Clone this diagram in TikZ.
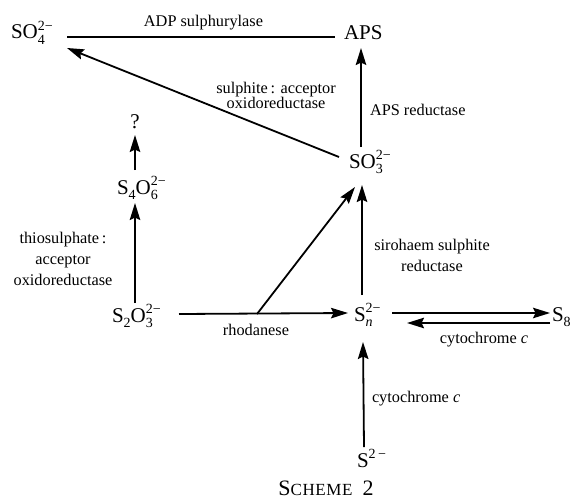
\documentclass[tikz,border=0pt]{standalone}
\usepackage{fontspec}
\setmainfont{Liberation Serif}
\usetikzlibrary{arrows.meta,calc}
\newcommand\scr{\fontsize{14}{14}\selectfont}
\newcommand\subsup[2]{\makebox[0pt][l]{\raisebox{-0.28em}{\scr #1}}\raisebox{0.4em}{\scr #2}}
\newcommand\supr[1]{\raisebox{0.4em}{\scr #1}}
\newcommand\chsub[1]{\raisebox{-0.28em}{\scr #1}}
\begin{document}
\begin{tikzpicture}[x=1pt,y=-1pt,
  chem/.style={inner sep=0pt,outer sep=0pt,anchor=base west,font=\fontsize{21}{24}\selectfont},
  lab/.style={inner sep=0pt,outer sep=0pt,font=\fontsize{16.3}{21}\selectfont},
  arr/.style={line width=1.8pt,-{Stealth[length=17pt,width=10.5pt,inset=2.5pt]}},
  ln/.style={line width=1.7pt}]
\useasboundingbox (0,0) rectangle (580,503);
% species
\node[chem] (so4) at (11,39) {SO\subsup{4}{2−}};
\node[chem] (aps) at (344,40) {APS};
\node[chem] (so3) at (349,168) {SO\subsup{3}{2−}};
\node[chem,anchor=base] (q) at (135,128) {?};
\node[chem] (s4o6) at (117,194) {S\chsub{4}O\subsup{6}{2−}};
\node[chem] (s2o3) at (112,322) {S\chsub{2}O\subsup{3}{2−}};
\node[chem] (sn) at (354,321) {S\subsup{\itshape n}{2−}};
\node[chem] (s8) at (552,321) {S\chsub{8}};
\node[chem] (s2) at (357,467) {S\supr{2\,−}};
% enzyme labels
\node[lab,anchor=base] (adp) at (203.5,27) {ADP sulphurylase};
\node[lab,align=center,font=\fontsize{16.3}{15.5}\selectfont] (sao) at (276,95.5) {sulphite\,: acceptor\\oxidoreductase};
\node[lab,anchor=base west] (apsr) at (370,115) {APS reductase};
\node[lab,align=center] (tao) at (63,258.5) {thiosulphate\,:\\acceptor\\oxidoreductase};
\node[lab,align=center] (sir) at (432,255.5) {sirohaem sulphite\\reductase};
\node[lab,anchor=base] (rho) at (256,335) {rhodanese};
\node[lab,anchor=base] (cyt1) at (484,343) {cytochrome \textit{c}};
\node[lab,anchor=base west] (cyt2) at (372,402) {cytochrome \textit{c}};
\node[inner sep=0pt,anchor=base] (cap) at (326,495) {{\fontsize{22}{22}\selectfont S}{\fontsize{17}{17}\selectfont C\kern0.6pt H\kern0.6pt E\kern0.6pt M\kern0.6pt E}\hspace{10pt}{\fontsize{22}{22}\selectfont 2}};
% connectors
\draw[ln] ($(so4.base west)+(56,-2)$) -- ($(aps.base west)+(-9,-3)$);
\draw[arr] ($(so3.base west)+(-10,-11)$) -- ($(so4.base west)+(56,9)$);
\draw[arr] ($(so3.base west)+(12,-21)$) -- ($(aps.base west)+(17,8)$);
\draw[arr] ($(s4o6.base west)+(18,-24)$) -- ($(q.base)+(0,7)$);
\draw[arr] ($(s2o3.base west)+(23,-19)$) -- ($(s4o6.base west)+(18,9)$);
\draw[arr] ($(s2o3.base west)+(67,-8)$) -- ($(sn.base west)+(-6,-8)$);
\coordinate (br) at ($(s2o3.base west)+(145,-8)$);
\draw[arr] (br) -- ($(so3.base west)+(6,19)$);
\draw[arr] ($(sn.base west)+(8,-26)$) -- ($(so3.base west)+(13,17)$);
\draw[arr] ($(sn.base west)+(38,-8)$) -- ($(s8.base west)+(-2,-8)$);
\draw[arr] ($(s8.base west)+(-2,2)$) -- ($(sn.base west)+(53,2)$);
\draw[arr] ($(s2.base west)+(7,-20)$) -- ($(sn.base west)+(9,21)$);
\end{tikzpicture}
\end{document}
